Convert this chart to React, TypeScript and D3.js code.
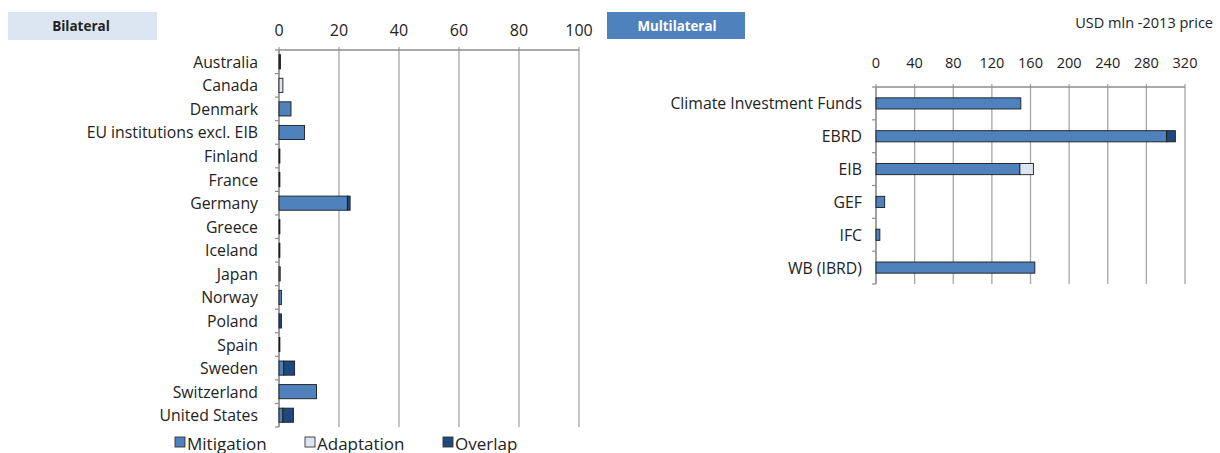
import * as d3 from 'd3';

// Bilateral donors
const bilateralCountries = [
  'Australia', 'Canada', 'Denmark', 'EU institutions excl. EIB', 'Finland', 'France',
  'Germany', 'Greece', 'Iceland', 'Japan', 'Norway', 'Poland', 'Spain', 'Sweden',
  'Switzerland', 'United States'
];
const bilateralMitigation = [0.3, 0, 4, 8.5, 0.3, 0.3, 22.8, 0.3, 0.3, 0.4, 0.8, 0, 0.3, 1.6, 12.5, 1.3];
const bilateralAdaptation = [0.2, 1.3, 0, 0, 0, 0, 0, 0, 0, 0, 0, 0, 0, 0, 0, 0];
const bilateralOverlap = [0, 0, 0, 0, 0, 0, 0.9, 0, 0, 0, 0, 0.8, 0, 3.6, 0, 3.5];
const bilateralTicks = [0, 20, 40, 60, 80, 100];

// Multilateral institutions
const multiInstitutions = ['Climate Investment Funds', 'EBRD', 'EIB', 'GEF', 'IFC', 'WB (IBRD)'];
const multiMitigation = [150, 301, 149, 9, 4, 164.5];
const multiAdaptation = [0, 0, 14, 0, 0, 0];
const multiOverlap = [0, 9, 0, 0, 0, 0];
const multiTicks = [0, 40, 80, 120, 160, 200, 240, 280, 320];

const seriesKeys = ['Mitigation', 'Adaptation', 'Overlap'];
const colors: Record<string, string> = {
  Mitigation: '#4f81bd',
  Adaptation: '#dce6f2',
  Overlap: '#1f497d'
};

const FONT = '"Open Sans", Lato, sans-serif';

interface PanelProps {
  cats: string[];
  mit: number[];
  ada: number[];
  ovl: number[];
  ticks: number[];
  x0: number;
  x1: number;
  y0: number;
  y1: number;
  padding: number;
  labelX: number;
  tickY: number;
  tickSize: number;
  labelSize: number;
}

function Panel({ cats, mit, ada, ovl, ticks, x0, x1, y0, y1, padding, labelX, tickY, tickSize, labelSize }: PanelProps) {
  const rows = cats.map((c, i) => ({ name: c, Mitigation: mit[i], Adaptation: ada[i], Overlap: ovl[i] }));
  const stack = d3.stack<any>().keys(seriesKeys)(rows);
  const x = d3.scaleLinear().domain([0, ticks[ticks.length - 1]]).range([x0, x1]);
  const y = d3.scaleBand().domain(cats).range([y0, y1]).paddingInner(padding).paddingOuter(padding / 2);
  const step = (y1 - y0) / cats.length;

  return (
    <g>
      {ticks.map(t => (
        <g key={t}>
          <line x1={x(t)} x2={x(t)} y1={y0 - 3} y2={y1} stroke="#a6a6a6" strokeWidth={1.3} />
          <text x={x(t)} y={tickY} textAnchor="middle" dominantBaseline="central"
            fontSize={tickSize} fill="#222" fontFamily={FONT}>{t}</text>
        </g>
      ))}
      <line x1={x0} x2={x1} y1={y0} y2={y0} stroke="#8c8c8c" strokeWidth={1.3} />
      <line x1={x0} x2={x0} y1={y0} y2={y1} stroke="#8c8c8c" strokeWidth={1.3} />
      {d3.range(cats.length + 1).map(i => (
        <line key={i} x1={x0 - 4} x2={x0} y1={y0 + i * step} y2={y0 + i * step} stroke="#8c8c8c" strokeWidth={1.2} />
      ))}
      {stack.map(s => (
        <g key={s.key} fill={colors[s.key]}>
          {s.map((d, i) => {
            const w = x(d[1]) - x(d[0]);
            if (w <= 0) return null;
            return (
              <rect key={i} x={x(d[0])} y={y(cats[i])} width={w} height={y.bandwidth()}
                stroke="#1b1b1b" strokeWidth={0.9} />
            );
          })}
        </g>
      ))}
      {cats.map(c => (
        <text key={c} x={labelX} y={(y(c) ?? 0) + y.bandwidth() / 2} textAnchor="end"
          dominantBaseline="central" fontSize={labelSize} fill="#222" fontFamily={FONT}>{c}</text>
      ))}
    </g>
  );
}

export default function App() {
  const legendItems = [
    { key: 'Mitigation', x: 175 },
    { key: 'Adaptation', x: 305 },
    { key: 'Overlap', x: 443 }
  ];
  return (
    <svg width={1220} height={453} style={{ position: 'absolute', left: 0, top: 0, background: '#fff' }}>
      <rect x={8} y={12} width={149} height={28} fill="#dce6f2" />
      <text x={81} y={26} textAnchor="middle" dominantBaseline="central" fontSize={13.5}
        fontWeight="bold" fill="#222" fontFamily={FONT}>Bilateral</text>

      <rect x={607} y={12} width={138} height={27} fill="#4f81bd" />
      <text x={677} y={25.5} textAnchor="middle" dominantBaseline="central" fontSize={13.3}
        fontWeight="bold" fill="#fff" fontFamily={FONT}>Multilateral</text>

      <text x={1213} y={22} textAnchor="end" dominantBaseline="central" fontSize={14.5}
        fill="#222" fontFamily={FONT}>USD mln -2013 price</text>

      <Panel cats={bilateralCountries} mit={bilateralMitigation} ada={bilateralAdaptation}
        ovl={bilateralOverlap} ticks={bilateralTicks} x0={279} x1={579} y0={50} y1={427}
        padding={0.4} labelX={258} tickY={30} tickSize={16} labelSize={15.8} />

      <Panel cats={multiInstitutions} mit={multiMitigation} ada={multiAdaptation}
        ovl={multiOverlap} ticks={multiTicks} x0={876} x1={1185} y0={87} y1={284}
        padding={0.66} labelX={862} tickY={62} tickSize={14.5} labelSize={15.8} />

      {legendItems.map(l => (
        <g key={l.key}>
          <rect x={l.x} y={437} width={10} height={10} fill={colors[l.key]} stroke="#333" strokeWidth={0.9} />
          <text x={l.x + 12} y={443} dominantBaseline="central" fontSize={17} fill="#222"
            fontFamily={FONT}>{l.key}</text>
        </g>
      ))}
    </svg>
  );
}
